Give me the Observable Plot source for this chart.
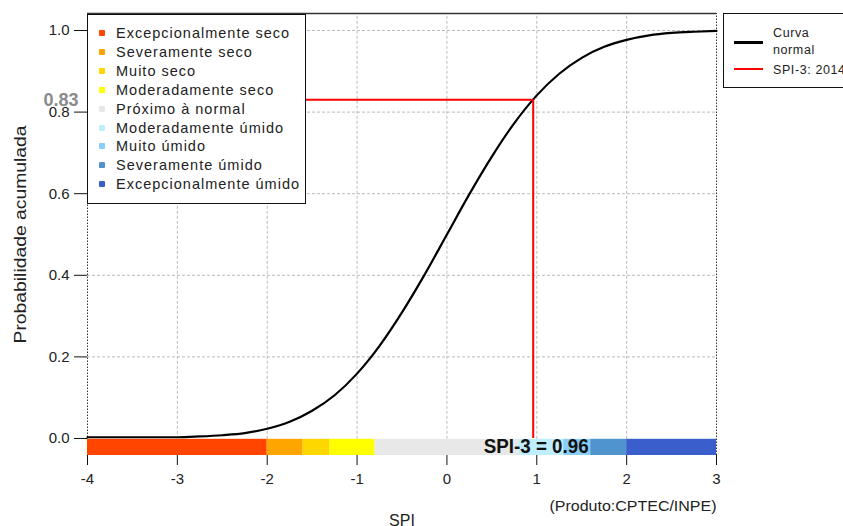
<!DOCTYPE html>
<html>
<head>
<meta charset="utf-8">
<script src="https://cdn.jsdelivr.net/npm/d3@7"></script>
<script src="https://cdn.jsdelivr.net/npm/@observablehq/plot@0.6"></script>
<style>
  html, body { margin: 0; padding: 0; background: #fff; }
  #wrap { position: relative; width: 843px; height: 526px; overflow: hidden; font-family: "Liberation Sans", Arial, sans-serif; }
  #chart { position: absolute; left: 0; top: 0; }
  .legend { position: absolute; background: #fff; border: 1px solid #111; box-sizing: border-box; }
  #leg1 { left: 87px; top: 14px; width: 219px; height: 190px; }
  #leg1 .item { position: absolute; left: 0; font-size: 14.5px; letter-spacing: 1px; color: #222; white-space: nowrap; line-height: 16px; }
  #leg1 .sw { position: absolute; left: 11px; top: 5px; width: 6px; height: 6px; border-radius: 1px; }
  #leg1 .lab { position: absolute; left: 28px; top: 0; }
  #leg2 { left: 723px; top: 13px; width: 140px; height: 75px; }
  #leg2 .t { position: absolute; left: 49px; font-size: 12.5px; letter-spacing: 0.6px; color: #222; white-space: nowrap; }
  #leg2 .ln { position: absolute; left: 10px; width: 29px; height: 0; }
</style>
</head>
<body>
<div id="wrap">
  <div id="chart"></div>
  <div class="legend" id="leg1"></div>
  <div class="legend" id="leg2"></div>
</div>
<script>
// ---- data ----
const spiX  = [-4, -3.75, -3.5, -3.25, -3, -2.75, -2.5, -2.25, -2, -1.75, -1.5, -1.25, -1, -0.75, -0.5, -0.25, 0, 0.25, 0.5, 0.75, 1, 1.25, 1.5, 1.75, 2, 2.25, 2.5, 2.75, 3];
const probY = [0.003, 0.003, 0.003, 0.003, 0.003, 0.005, 0.008, 0.013, 0.024, 0.041, 0.068, 0.106, 0.159, 0.227, 0.309, 0.401, 0.5, 0.599, 0.691, 0.773, 0.841, 0.894, 0.933, 0.96, 0.977, 0.988, 0.994, 0.997, 0.999];

const categories = ["Excepcionalmente seco", "Severamente seco", "Muito seco", "Moderadamente seco", "Próximo à normal", "Moderadamente úmido", "Muito úmido", "Severamente úmido", "Excepcionalmente úmido"];
const catColors  = ["#ff4500", "#ffa500", "#ffd700", "#ffff00", "#e8e8e8", "#bfefff", "#87cefa", "#4f94cd", "#3a5fcd"];
const catStart   = [-4, -2, -1.6, -1.3, -0.8, 0.8, 1.3, 1.6, 2];
const catEnd     = [-2, -1.6, -1.3, -0.8, 0.8, 1.3, 1.6, 2, 3];

const xTicks = [-4, -3, -2, -1, 0, 1, 2, 3];
const yTicks = [0, 0.2, 0.4, 0.6, 0.8, 1.0];
const spiValue = 0.96;
const spiProb = 0.83;
const spiLabel = "SPI-3 = 0.96";
const probLabel = "0.83";
const xTitle = "SPI";
const yTitle = "Probabilidade acumulada";
const caption = "(Produto:CPTEC/INPE)";
const legendLines = [{label: ["Curva", "normal"], color: "#000"}, {label: ["SPI-3: 2014"], color: "#ff0000"}];

// ---- build ----
const curve = spiX.map((x, i) => ({x, y: probY[i]}));
const bands = categories.map((c, i) => ({c, x1: catStart[i], x2: catEnd[i], color: catColors[i]}));
const yMin = -0.0417, yMax = 1.0417, barTop = -0.002;

const chart = Plot.plot({
  width: 843,
  height: 526,
  marginLeft: 87,
  marginRight: 127,
  marginTop: 13,
  marginBottom: 71,
  style: {fontFamily: "'Liberation Sans', Arial, sans-serif", fontSize: "15px", color: "#222", background: "#fff"},
  x: {domain: [-4, 3]},
  y: {domain: [yMin, yMax]},
  marks: [
    // grid
    Plot.ruleX(xTicks.filter(d => d > -4 && d < 3), {y1: barTop, y2: yMax, stroke: "#bbb", strokeDasharray: "3,2", strokeWidth: 1}),
    Plot.ruleY(yTicks.filter(d => d > 0), {x1: -4, x2: 3, stroke: "#bbb", strokeDasharray: "3,2", strokeWidth: 1}),
    Plot.ruleX([-4, 3], {y1: yMin, y2: yMax, stroke: "#333", strokeDasharray: "1.5,1.5", strokeWidth: 1}),
    Plot.ruleY([yMax], {x1: -4, x2: 3, stroke: "#333", strokeWidth: 1.5}),
    // category bar
    Plot.rect(bands, {x1: "x1", x2: "x2", y1: yMin, y2: barTop, fill: "color"}),
    // normal curve
    Plot.line(curve, {x: "x", y: "y", stroke: "#000", strokeWidth: 2.2, curve: "monotone-x"}),
    // SPI markers
    Plot.ruleY([spiProb], {x1: -4, x2: spiValue, stroke: "#ff0000", strokeWidth: 2}),
    Plot.ruleX([spiValue], {y1: 0, y2: spiProb, stroke: "#ff0000", strokeWidth: 2}),
    Plot.text([spiLabel], {x: spiValue, y: -0.021, dx: 3, text: d => d, fontSize: 20, fontWeight: "bold", fill: "#111"}),
    Plot.text([probLabel], {x: -4, y: spiProb, dx: -9, text: d => d, textAnchor: "end", fontSize: 18, fontWeight: "bold", fill: "#8a8a8a"}),
    // axes
    Plot.axisX(xTicks, {tickSize: 10, tickPadding: 8, tickFormat: d => String(d), label: null, fontSize: 15, stroke: "#111"}),
    Plot.axisY(yTicks, {tickSize: 13, tickPadding: 5, tickFormat: d3.format(".1f"), label: null, fontSize: 15, stroke: "#111"}),
    // axis titles + caption
    Plot.text([xTitle], {frameAnchor: "bottom", dy: 70, textAnchor: "middle", text: d => d, fontSize: 16, fill: "#222"}),
    Plot.text([yTitle], {frameAnchor: "left", dx: -67, textAnchor: "middle", rotate: -90, text: d => d, fontSize: 16, fill: "#222"}),
    Plot.text([caption], {frameAnchor: "bottom-right", dy: 55, textAnchor: "end", text: d => d, fontSize: 14, fill: "#222"})
  ]
});
document.getElementById("chart").appendChild(chart);

// stretch/condense some texts to match the reference widths
const fits = {[spiLabel]: 105, [caption]: 167, [yTitle]: 218};
d3.select(chart).selectAll("text").each(function () {
  const t = this.textContent;
  if (fits[t]) {
    this.setAttribute("textLength", fits[t]);
    this.setAttribute("lengthAdjust", "spacingAndGlyphs");
  }
});

// legends
const leg1 = document.getElementById("leg1");
categories.forEach((c, i) => {
  const it = document.createElement("div");
  it.className = "item";
  it.style.top = (10 + i * 18.9) + "px";
  it.innerHTML = `<span class="sw" style="background:${catColors[i]}"></span><span class="lab">${c}</span>`;
  leg1.appendChild(it);
});
const leg2 = document.getElementById("leg2");
const lineY = [27, 54];
const textRows = [[12, 29], [49]];
legendLines.forEach((l, i) => {
  const ln = document.createElement("div");
  ln.className = "ln";
  ln.style.top = lineY[i] + "px";
  ln.style.borderTop = `${i === 0 ? 3 : 2}px solid ${l.color}`;
  leg2.appendChild(ln);
  l.label.forEach((t, j) => {
    const s = document.createElement("div");
    s.className = "t";
    s.style.top = textRows[i][j] + "px";
    s.textContent = t;
    leg2.appendChild(s);
  });
});
</script>
</body>
</html>
